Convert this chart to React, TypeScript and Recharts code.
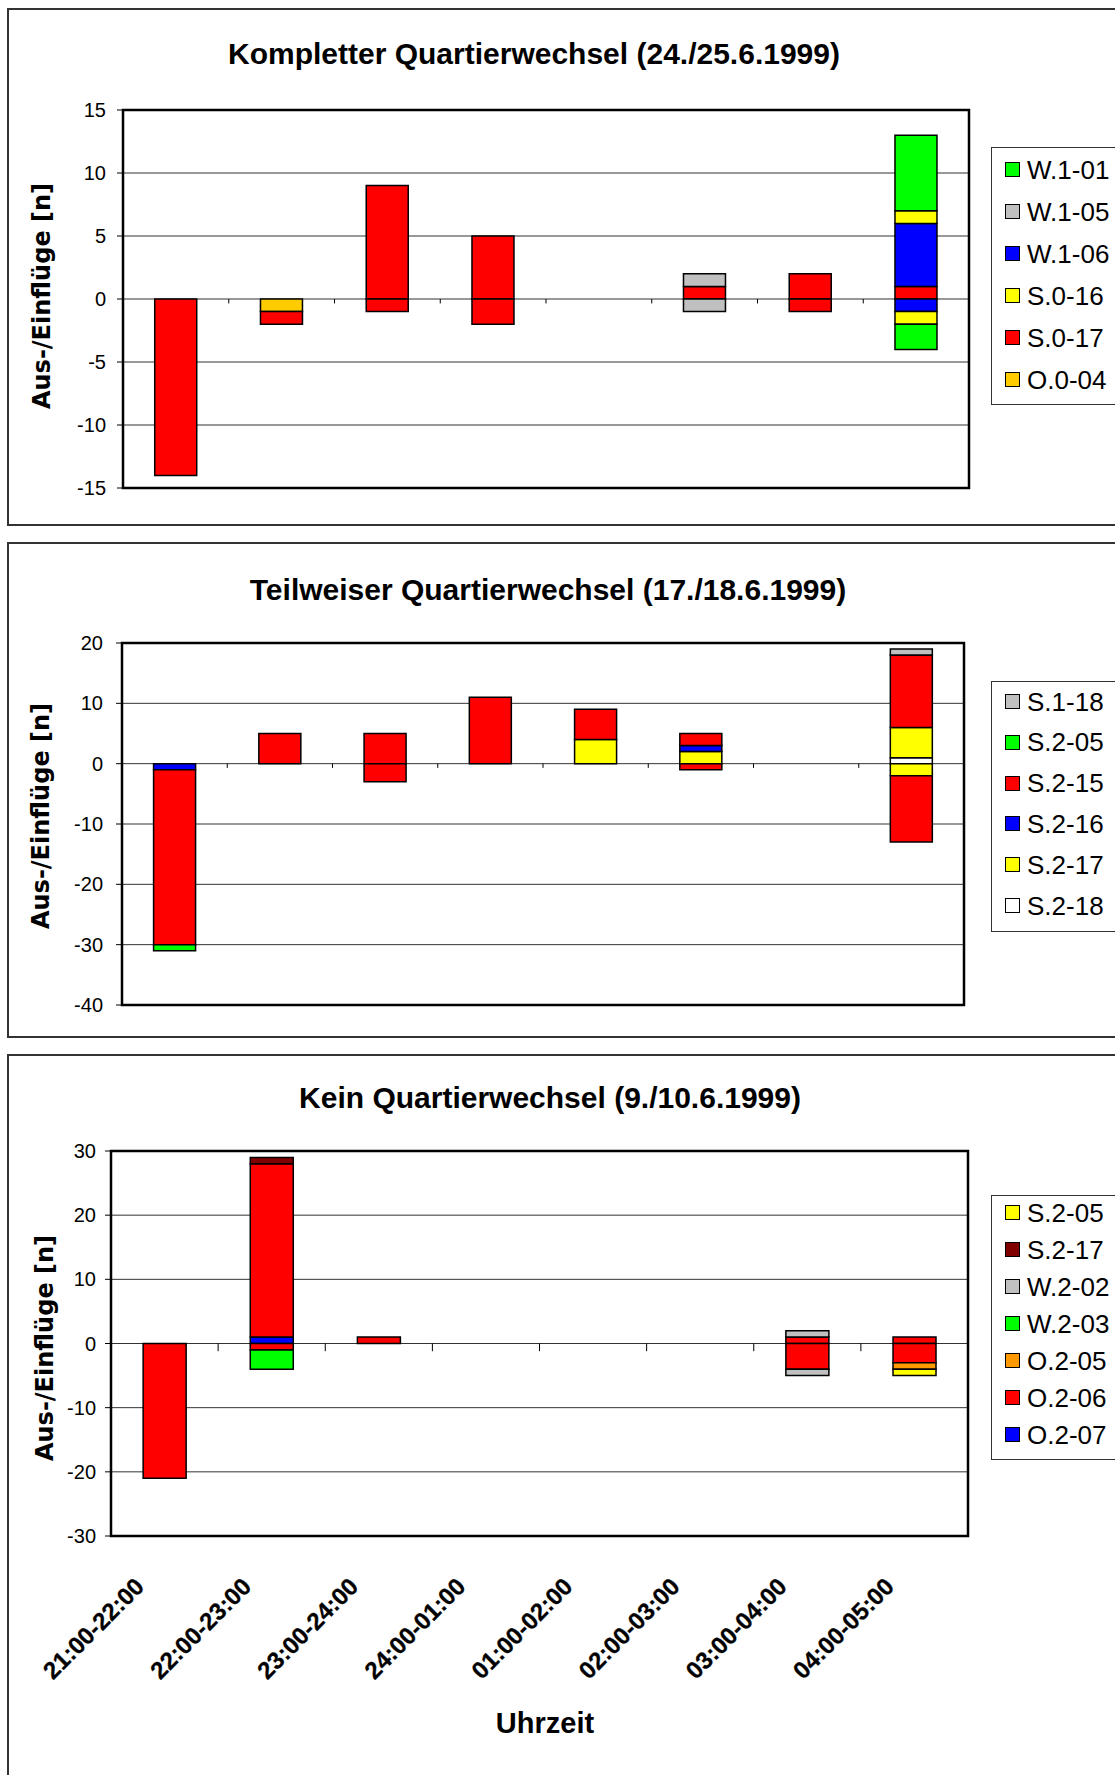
import React from 'react';
import { BarChart, Bar, XAxis, YAxis, CartesianGrid, ReferenceLine, ReferenceArea } from 'recharts';

const FONT = '"Liberation Sans", Arial, sans-serif';
const LABEL_FONT = '"DejaVu Sans", Verdana, sans-serif';

const hours = ['21:00-22:00', '22:00-23:00', '23:00-24:00', '24:00-01:00', '01:00-02:00', '02:00-03:00', '03:00-04:00', '04:00-05:00'];

// ---- Chart 1: Kompletter Quartierwechsel (24./25.6.1999) ----
// ein = Einflüge (+), aus = Ausflüge (−)
const k_O004_ein = [0, 0, 0, 0, 0, 0, 0, 0];
const k_O004_aus = [0, -1, 0, 0, 0, 0, 0, 0];
const k_S017_ein = [0, 0, 9, 5, 0, 1, 2, 1];
const k_S017_aus = [-14, -1, -1, -2, 0, 0, -1, 0];
const k_W106_ein = [0, 0, 0, 0, 0, 0, 0, 5];
const k_W106_aus = [0, 0, 0, 0, 0, 0, 0, -1];
const k_S016_ein = [0, 0, 0, 0, 0, 0, 0, 1];
const k_S016_aus = [0, 0, 0, 0, 0, 0, 0, -1];
const k_W105_ein = [0, 0, 0, 0, 0, 1, 0, 0];
const k_W105_aus = [0, 0, 0, 0, 0, -1, 0, 0];
const k_W101_ein = [0, 0, 0, 0, 0, 0, 0, 6];
const k_W101_aus = [0, 0, 0, 0, 0, 0, 0, -2];
const k_ticks = [-15, -10, -5, 0, 5, 10, 15];

// ---- Chart 2: Teilweiser Quartierwechsel (17./18.6.1999) ----
const t_S218_ein = [0, 0, 0, 0, 0, 0, 0, 1];
const t_S218_aus = [0, 0, 0, 0, 0, 0, 0, 0];
const t_S217_ein = [0, 0, 0, 0, 4, 2, 0, 5];
const t_S217_aus = [0, 0, 0, 0, 0, 0, 0, -2];
const t_S216_ein = [0, 0, 0, 0, 0, 1, 0, 0];
const t_S216_aus = [-1, 0, 0, 0, 0, 0, 0, 0];
const t_S215_ein = [0, 5, 5, 11, 5, 2, 0, 12];
const t_S215_aus = [-29, 0, -3, 0, 0, -1, 0, -11];
const t_S205_ein = [0, 0, 0, 0, 0, 0, 0, 0];
const t_S205_aus = [-1, 0, 0, 0, 0, 0, 0, 0];
const t_S118_ein = [0, 0, 0, 0, 0, 0, 0, 1];
const t_S118_aus = [0, 0, 0, 0, 0, 0, 0, 0];
const t_ticks = [-40, -30, -20, -10, 0, 10, 20];

// ---- Chart 3: Kein Quartierwechsel (9./10.6.1999) ----
const n_O207_ein = [0, 1, 0, 0, 0, 0, 0, 0];
const n_O207_aus = [0, 0, 0, 0, 0, 0, 0, 0];
const n_O206_ein = [0, 27, 1, 0, 0, 0, 1, 1];
const n_O206_aus = [-21, -1, 0, 0, 0, 0, -4, -3];
const n_O205_ein = [0, 0, 0, 0, 0, 0, 0, 0];
const n_O205_aus = [0, 0, 0, 0, 0, 0, 0, -1];
const n_W203_ein = [0, 0, 0, 0, 0, 0, 0, 0];
const n_W203_aus = [0, -3, 0, 0, 0, 0, 0, 0];
const n_W202_ein = [0, 0, 0, 0, 0, 0, 1, 0];
const n_W202_aus = [0, 0, 0, 0, 0, 0, -1, 0];
const n_S217_ein = [0, 1, 0, 0, 0, 0, 0, 0];
const n_S217_aus = [0, 0, 0, 0, 0, 0, 0, 0];
const n_S205_ein = [0, 0, 0, 0, 0, 0, 0, 0];
const n_S205_aus = [0, 0, 0, 0, 0, 0, 0, -1];
const n_ticks = [-30, -20, -10, 0, 10, 20, 30];

type Series = { name: string; color: string; ein: number[]; aus: number[] };

// stacking order (bottom -> top), legend shows reverse order
const komplettSeries: Series[] = [
  { name: 'O.0-04', color: '#FFCC00', ein: k_O004_ein, aus: k_O004_aus },
  { name: 'S.0-17', color: '#FF0000', ein: k_S017_ein, aus: k_S017_aus },
  { name: 'W.1-06', color: '#0000FF', ein: k_W106_ein, aus: k_W106_aus },
  { name: 'S.0-16', color: '#FFFF00', ein: k_S016_ein, aus: k_S016_aus },
  { name: 'W.1-05', color: '#C0C0C0', ein: k_W105_ein, aus: k_W105_aus },
  { name: 'W.1-01', color: '#00FF00', ein: k_W101_ein, aus: k_W101_aus },
];
const komplettLegend = ['W.1-01', 'W.1-05', 'W.1-06', 'S.0-16', 'S.0-17', 'O.0-04'];

const teilSeries: Series[] = [
  { name: 'S.2-18', color: '#FFFFFF', ein: t_S218_ein, aus: t_S218_aus },
  { name: 'S.2-17', color: '#FFFF00', ein: t_S217_ein, aus: t_S217_aus },
  { name: 'S.2-16', color: '#0000FF', ein: t_S216_ein, aus: t_S216_aus },
  { name: 'S.2-15', color: '#FF0000', ein: t_S215_ein, aus: t_S215_aus },
  { name: 'S.2-05', color: '#00FF00', ein: t_S205_ein, aus: t_S205_aus },
  { name: 'S.1-18', color: '#C0C0C0', ein: t_S118_ein, aus: t_S118_aus },
];
const teilLegend = ['S.1-18', 'S.2-05', 'S.2-15', 'S.2-16', 'S.2-17', 'S.2-18'];

const keinSeries: Series[] = [
  { name: 'O.2-07', color: '#0000FF', ein: n_O207_ein, aus: n_O207_aus },
  { name: 'O.2-06', color: '#FF0000', ein: n_O206_ein, aus: n_O206_aus },
  { name: 'O.2-05', color: '#FF9900', ein: n_O205_ein, aus: n_O205_aus },
  { name: 'W.2-03', color: '#00FF00', ein: n_W203_ein, aus: n_W203_aus },
  { name: 'W.2-02', color: '#C0C0C0', ein: n_W202_ein, aus: n_W202_aus },
  { name: 'S.2-17', color: '#800000', ein: n_S217_ein, aus: n_S217_aus },
  { name: 'S.2-05', color: '#FFFF00', ein: n_S205_ein, aus: n_S205_aus },
];
const keinLegend = ['S.2-05', 'S.2-17', 'W.2-02', 'W.2-03', 'O.2-05', 'O.2-06', 'O.2-07'];

function buildData(series: Series[]) {
  return hours.map((hour, i) => {
    const row: Record<string, any> = { hour };
    series.forEach((s, j) => {
      row[`s${j}_ein`] = s.ein[i];
      row[`s${j}_aus`] = s.aus[i];
    });
    return row;
  });
}

const HourTick = (props: any) => {
  const { x, y, payload } = props;
  return (
    <text
      transform={`translate(${x - 19},${y + 52}) rotate(-45)`}
      textAnchor="end"
      fontSize={24}
      fontWeight="bold"
      fontFamily={FONT}
      fill="#000"
      stroke="#000"
      strokeWidth={0.3}
    >
      {payload.value}
    </text>
  );
};

type ChartProps = {
  series: Series[];
  ticks: number[];
  top: number;
  height: number;
  marginTop: number;
  marginBottom: number;
  marginRight: number;
  yWidth: number;
  tickMargin: number;
  zeroTick: number;
  showX: boolean;
};

function StackChart(p: ChartProps) {
  const data = buildData(p.series);
  const lo = p.ticks[0];
  const hi = p.ticks[p.ticks.length - 1];
  return (
    <div style={{ position: 'absolute', left: 0, top: p.top, width: 1115, height: p.height }}>
      <BarChart
        width={1115}
        height={p.height}
        data={data}
        stackOffset="sign"
        barCategoryGap="30%"
        margin={{ top: p.marginTop, right: p.marginRight, bottom: p.marginBottom, left: 0 }}
      >
        <CartesianGrid vertical={false} stroke="#333" strokeWidth={1} />
        {p.showX ? (
          <XAxis
            dataKey="hour"
            interval={0}
            tickLine={false}
            axisLine={false}
            tickSize={0}
            tickMargin={0}
            height={150}
            tick={<HourTick />}
          />
        ) : (
          <XAxis dataKey="hour" hide />
        )}
        <YAxis
          type="number"
          domain={[lo, hi]}
          ticks={p.ticks}
          interval={0}
          width={p.yWidth}
          tickSize={6}
          tickMargin={p.tickMargin}
          axisLine={{ stroke: '#000', strokeWidth: 2 }}
          tickLine={{ stroke: '#000', strokeWidth: 1 }}
          tick={{ fontSize: 20, fill: '#000', fontFamily: FONT }}
        />
        {p.series.map((s, j) => [
          <Bar
            key={`e${j}`}
            dataKey={`s${j}_ein`}
            stackId="a"
            fill={s.color}
            stroke="#000"
            strokeWidth={1.5}
            isAnimationActive={false}
          />,
          <Bar
            key={`a${j}`}
            dataKey={`s${j}_aus`}
            stackId="a"
            fill={s.color}
            stroke="#000"
            strokeWidth={1.5}
            isAnimationActive={false}
          />,
        ])}
        {hours.slice(1).map((h) => (
          <ReferenceLine
            key={`t${h}`}
            segment={[{ x: h, y: 0 }, { x: h, y: -p.zeroTick }]}
            position="start"
            stroke="#000"
            strokeWidth={1}
            ifOverflow="visible"
          />
        ))}
        <ReferenceArea y1={lo} y2={hi} fill="none" fillOpacity={0} stroke="#000" strokeWidth={2.5} ifOverflow="visible" />
      </BarChart>
    </div>
  );
}

function LegendBox(props: { top: number; height: number; names: string[]; series: Series[]; firstCenter: number; step: number }) {
  const colorOf = (n: string) => props.series.find((s) => s.name === n)!.color;
  return (
    <div
      style={{
        position: 'absolute',
        left: 991,
        top: props.top,
        width: 220,
        height: props.height,
        border: '1.5px solid #333',
        boxSizing: 'border-box',
        background: '#fff',
      }}
    >
      {props.names.map((n, i) => {
        const cy = props.firstCenter + i * props.step - props.top - 1.5;
        return (
          <React.Fragment key={n}>
            <div
              style={{
                position: 'absolute',
                left: 13,
                top: cy - 7.5,
                width: 15,
                height: 15,
                boxSizing: 'border-box',
                border: '1px solid #000',
                background: colorOf(n),
              }}
            />
            <div
              style={{
                position: 'absolute',
                left: 35,
                top: cy - 15,
                height: 30,
                lineHeight: '30px',
                fontSize: 26,
                fontFamily: FONT,
                color: '#000',
                whiteSpace: 'nowrap',
              }}
            >
              {n}
            </div>
          </React.Fragment>
        );
      })}
    </div>
  );
}

const panelStyle = (top: number, height: number): React.CSSProperties => ({
  position: 'absolute',
  left: 7,
  top,
  width: 1200,
  height,
  border: '2px solid #333',
  boxSizing: 'border-box',
  background: '#fff',
});

export default function App() {
  return (
    <div style={{ position: 'absolute', left: 0, top: 0, width: 1115, height: 1775, overflow: 'hidden', background: '#fff' }}>
      <div style={panelStyle(8, 518)} />
      <div style={panelStyle(542, 496)} />
      <div style={panelStyle(1054, 800)} />

      <StackChart
        series={komplettSeries}
        ticks={k_ticks}
        top={0}
        height={530}
        marginTop={110}
        marginBottom={42}
        marginRight={146}
        yWidth={123}
        tickMargin={11}
        zeroTick={0.35}
        showX={false}
      />
      <StackChart
        series={teilSeries}
        ticks={t_ticks}
        top={535}
        height={505}
        marginTop={108}
        marginBottom={35}
        marginRight={151}
        yWidth={122}
        tickMargin={13}
        zeroTick={0.7}
        showX={false}
      />
      <StackChart
        series={keinSeries}
        ticks={n_ticks}
        top={1050}
        height={725}
        marginTop={101}
        marginBottom={89}
        marginRight={147}
        yWidth={111}
        tickMargin={9}
        zeroTick={1.2}
        showX={true}
      />

      <LegendBox top={147} height={258} names={komplettLegend} series={komplettSeries} firstCenter={170} step={42} />
      <LegendBox top={681} height={251} names={teilLegend} series={teilSeries} firstCenter={702} step={40.8} />
      <LegendBox top={1195} height={265} names={keinLegend} series={keinSeries} firstCenter={1213} step={37} />

      <svg width={1115} height={1775} style={{ position: 'absolute', left: 0, top: 0, pointerEvents: 'none' }}>
        <g fontFamily={FONT} fontWeight="bold" fill="#000" textAnchor="middle">
          <text x={534} y={53} fontSize={30} dominantBaseline="central">Kompletter Quartierwechsel (24./25.6.1999)</text>
          <text x={548} y={589} fontSize={30} dominantBaseline="central">Teilweiser Quartierwechsel (17./18.6.1999)</text>
          <text x={550} y={1097} fontSize={30} dominantBaseline="central">Kein Quartierwechsel (9./10.6.1999)</text>
          <text x={545} y={1723} fontSize={29} dominantBaseline="central">Uhrzeit</text>
        </g>
        <g fontFamily={LABEL_FONT} fontWeight="bold" fill="#000" textAnchor="middle" fontSize={24}>
          <text transform="translate(42,296) rotate(-90)" dominantBaseline="central">Aus-/Einflüge [n]</text>
          <text transform="translate(41,816) rotate(-90)" dominantBaseline="central">Aus-/Einflüge [n]</text>
          <text transform="translate(45,1348) rotate(-90)" dominantBaseline="central">Aus-/Einflüge [n]</text>
        </g>
      </svg>
    </div>
  );
}
